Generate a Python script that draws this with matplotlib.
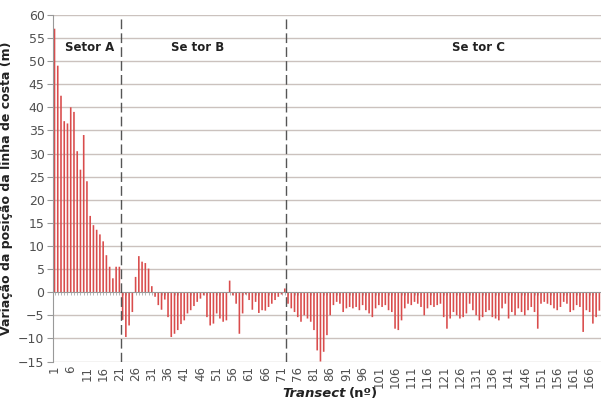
import numpy as np
import matplotlib
matplotlib.use('Agg')
import matplotlib.pyplot as plt

# shoreline change per transect (m)
setor_a = [57, 49, 42.5, 37, 36.5, 40, 39, 30.5, 26.5, 34, 24, 16.5, 14.5,
           13.5, 12.5, 11, 8, 5.5, 3, 5.5, 5.5]
setor_b = [-6, -9.7, -7.2, -4.3, 3.3, 7.8, 6.6, 6.3, 5.1, 1.3, -1, -2.8, -3.8,
           -1.6, -5.4, -9.7, -9, -8.2, -6.9, -6.1, -4.6, -3.9, -3, -2.1, -1.4,
           -0.7, -5.4, -7.2, -6.8, -4.6, -5.7, -6.4, -6.1, 2.5, -0.7, -2.5, -9,
           -4.6, -0.5, -1.7, -3.8, -2.1, -4.5, -3.9, -4, -3.2, -2.5, -1.7, -1,
           -0.5, 0.8]
setor_c = [-2.5, -3.5, -4.3, -5.4, -6.4, -5, -5.7, -6.4, -8.2, -12.6, -15,
           -12.9, -9.3, -5, -2.8, -2.1, -2.5, -4.3, -3.5, -3.2, -3.5, -3.2, -3.9,
           -2.8, -3.9, -4.6, -5.4, -3.5, -2.8, -3.2, -2.8, -3.9, -4.3, -7.9, -8.2,
           -6.1, -3.5, -2.5, -2.8, -2.1, -2.5, -3.2, -5, -3.5, -2.8, -3.2, -2.8,
           -2.5, -5.4, -7.9, -5.7, -4.3, -5, -5.7, -5.4, -4.6, -2.5, -3.9, -5,
           -6.1, -5.4, -4.3, -3.9, -5.4, -5.7, -6.1, -3.5, -2.5, -5.7, -4.3, -5,
           -3.5, -4.3, -5, -3.9, -3.2, -4.3, -7.9, -2.5, -2.1, -2.5, -2.8, -3.5,
           -3.9, -3.2, -2.1, -2.5, -4.3, -3.9, -2.8, -3.2, -8.6, -3.9, -4.3, -6.8,
           -5.4, -4]

valores = np.array(setor_a + setor_b + setor_c)
transects = np.arange(1, len(valores) + 1)
tick_labels = list(range(1, 167, 5))

limites = [21.5, 72.5]
setores = [('Setor A', 11.8), ('Se tor B', 45), ('Se tor C', 131.6)]

fig = plt.figure(figsize=(6.01, 4.01), dpi=100)
ax = fig.add_axes([0.088, 0.0985, 0.912, 0.8645])

grid_col = '#cbc2be'
txt_col = '#505050'

ax.set_ylim(-15, 60)
ax.set_xlim(0.5, len(valores) + 0.5)
ax.set_yticks(range(-15, 61, 5))
for v in range(-15, 61, 5):
    if v != 0:
        ax.axhline(v, color=grid_col, lw=1, zorder=0)

bars = ax.bar(transects, valores, width=0.5, color='#d94c4c', linewidth=0,
              zorder=2)
for b in bars:
    b.set_snap(False)

for x in limites:
    ax.axvline(x, color='#555555', lw=1, ls=(0, (7, 3)), zorder=3)

for nome, x in setores:
    ax.text(x, 53, nome, ha='center', va='center', fontsize=8.5,
            fontweight='bold', color='#222222')

# category axis crossing at zero
for s in ['top', 'right']:
    ax.spines[s].set_visible(False)
ax.spines['bottom'].set_position(('data', 0))
ax.spines['bottom'].set_color('#999999')
ax.spines['left'].set_color('#999999')
ax.set_xticks(transects)
ax.tick_params(axis='x', direction='out', length=2, color='#aaaaaa',
               width=0.6, labelbottom=False)
ax.tick_params(axis='y', direction='out', length=4, color='#999999',
               labelsize=9, labelcolor=txt_col, pad=2)

sec = ax.secondary_xaxis('bottom')
sec.set_xticks(tick_labels)
sec.set_xticklabels([str(t) for t in tick_labels], rotation=90)
sec.tick_params(length=0, labelsize=8.5, labelcolor=txt_col, pad=3)
sec.spines['bottom'].set_visible(False)

ax.set_ylabel('Variação da posição da linha de costa (m)', fontsize=9,
              fontweight='bold', color='#222222', labelpad=4)

ax.text(0.534, -0.092, 'Transect', transform=ax.transAxes, ha='right',
        va='center', fontsize=9.5, fontweight='bold', fontstyle='italic',
        color='#222222')
ax.text(0.54, -0.092, '(nº)', transform=ax.transAxes, ha='left',
        va='center', fontsize=9.5, fontweight='bold', color='#222222')

fig.savefig('out.png', dpi=100)
